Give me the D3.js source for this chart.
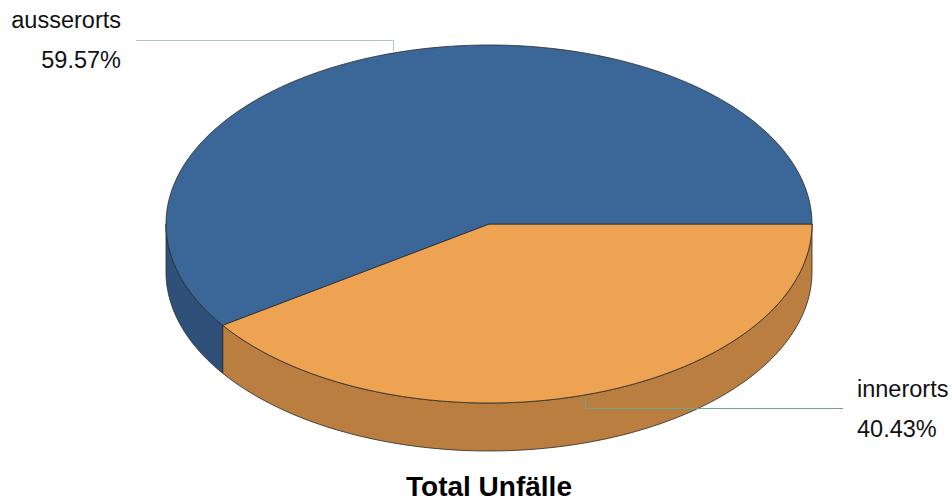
<!DOCTYPE html>
<html><head><meta charset="utf-8">
<script src="https://cdn.jsdelivr.net/npm/d3@7"></script>
<style>body{margin:0;background:#fff}svg{display:block}</style>
</head><body>
<script>
const categories = ["ausserorts", "innerorts"];
const values = [59.57, 40.43];
const labels = ["59.57%", "40.43%"];
const topColors = ["#3A6698", "#EEA353"];
const sideColors = ["#2E5079", "#B97E40"];

const W = 952, H = 503;
const cx = 489, cy = 224, rx = 323, ry = 179, depth = 48;

const svg = d3.select("body").append("svg").attr("width", W).attr("height", H);

// pie: innerorts starts at 3 o'clock, clockwise
const pie = d3.pie().sort(null).value(i => values[i]).startAngle(Math.PI/2).endAngle(Math.PI/2 + 2*Math.PI);
const arcs = pie([1, 0]); // innerorts first
const toT = a => a - Math.PI/2;
const px = t => cx + rx*Math.cos(t);
const py = (t, dz=0) => cy + ry*Math.sin(t) + dz;

function sidePath(t0, t1) {
  const n = 80, pts = [];
  for (let i=0;i<=n;i++){ const t=t0+(t1-t0)*i/n; pts.push([px(t), py(t)]); }
  for (let i=n;i>=0;i--){ const t=t0+(t1-t0)*i/n; pts.push([px(t), py(t, depth)]); }
  return d3.line()(pts) + "Z";
}
function topPath(t0, t1) {
  const n = 160, pts = [[cx, cy]];
  for (let i=0;i<=n;i++){ const t=t0+(t1-t0)*i/n; pts.push([px(t), py(t)]); }
  return d3.line()(pts) + "Z";
}

const g = svg.append("g");
arcs.forEach(a => {
  const i = a.data;
  const t0 = Math.max(toT(a.startAngle), 0);
  const t1 = Math.min(toT(a.endAngle), Math.PI);
  if (t1 > t0) {
    g.append("path").attr("d", sidePath(t0, t1))
      .attr("fill", sideColors[i]).attr("stroke", "#2a2a2a").attr("stroke-width", 0.8)
      .attr("stroke-linejoin", "round");
  }
});
arcs.forEach(a => {
  const i = a.data;
  g.append("path").attr("d", topPath(toT(a.startAngle), toT(a.endAngle)))
    .attr("fill", topColors[i]).attr("stroke", "#2a2a2a").attr("stroke-width", 0.8)
    .attr("stroke-linejoin", "round");
});

const labelSpec = {
  ausserorts: {lineColor: "#a9c6c2", dir: -1, endX: 136, anchor: "end", tx: 121, nameY: 28, valY: 68},
  innerorts:  {lineColor: "#6aa58c", dir: 1, endX: 843, anchor: "start", tx: 857, nameY: 397, valY: 437}
};
arcs.forEach(a => {
  const i = a.data, s = labelSpec[categories[i]];
  const tm = toT((a.startAngle + a.endAngle)/2);
  const x0 = Math.round(px(tm)) + 0.5;
  const y0 = py(tm) + 2*s.dir;
  const y1 = Math.round(py(tm) + s.dir*13) + 0.5;
  svg.append("path").attr("d", d3.line()([[x0, y0], [x0, y1], [s.endX, y1]]))
    .attr("fill", "none").attr("stroke", s.lineColor).attr("stroke-width", 1);
  svg.append("text").attr("x", s.tx).attr("y", s.nameY).attr("text-anchor", s.anchor)
    .attr("font-family", "Liberation Sans, Arial, sans-serif").attr("font-size", 23.5).attr("fill", "#111")
    .text(categories[i]);
  svg.append("text").attr("x", s.tx).attr("y", s.valY).attr("text-anchor", s.anchor)
    .attr("font-family", "Liberation Sans, Arial, sans-serif").attr("font-size", 23.5).attr("fill", "#111")
    .text(labels[i]);
});

svg.append("text").attr("x", cx).attr("y", 496).attr("text-anchor", "middle")
  .attr("font-family", "Liberation Sans, Arial, sans-serif").attr("font-weight", "bold")
  .attr("font-size", 28).attr("fill", "#000").text("Total Unfälle");
</script>
</body></html>
